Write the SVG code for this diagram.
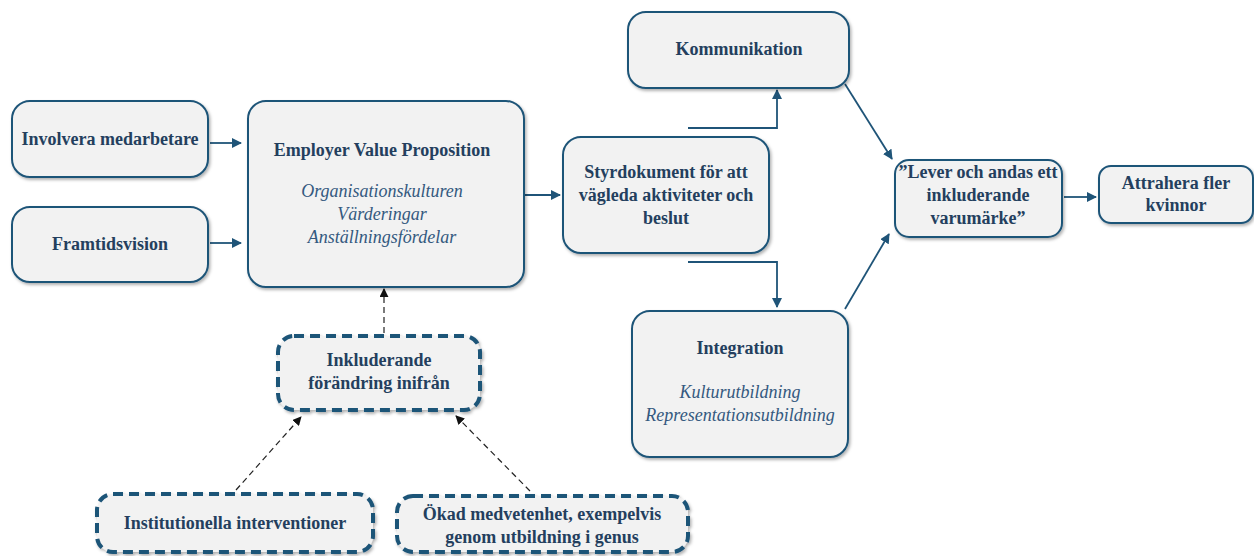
<svg xmlns="http://www.w3.org/2000/svg" width="1254" height="556" viewBox="0 0 1254 556">
<defs>
<filter id="sh" x="-10%" y="-10%" width="125%" height="130%">
<feDropShadow dx="1.5" dy="2" stdDeviation="1.5" flood-color="#000" flood-opacity="0.3"/>
</filter>
<marker id="ah" viewBox="0 0 10 10" refX="9" refY="5" markerWidth="10" markerHeight="10" markerUnits="userSpaceOnUse" orient="auto">
<path d="M0,0 L10,5 L0,10 z" fill="#1f5478"/>
</marker>
<marker id="ahk" viewBox="0 0 10 10" refX="9" refY="5" markerWidth="9" markerHeight="9" markerUnits="userSpaceOnUse" orient="auto">
<path d="M0,0 L10,5 L0,10 z" fill="#111"/>
</marker>
</defs>
<style>
.box{fill:#f2f2f2;stroke:#1f5478;stroke-width:2;filter:url(#sh)}
.dbox{fill:#f2f2f2;stroke:#1f5478;stroke-width:4;stroke-dasharray:10 6;filter:url(#sh)}
.t{font-family:"Liberation Serif","Times New Roman",serif;font-size:18px;font-weight:bold;fill:#243f5e;text-anchor:middle}
.i{font-family:"Liberation Serif","Times New Roman",serif;font-size:18px;font-style:italic;fill:#34597f;text-anchor:middle}
.c{fill:none;stroke:#1f5478;stroke-width:1.8}
.d{fill:none;stroke:#222;stroke-width:1.2;stroke-dasharray:6 4}
</style>
<g id="connectors">
<path class="c" d="M210,143 L241,143" marker-end="url(#ah)"/>
<path class="c" d="M210,243 L241,243" marker-end="url(#ah)"/>
<path class="c" d="M525,195 L560,195" marker-end="url(#ah)"/>
<path class="c" d="M688,128 L777,128 L777,90" marker-end="url(#ah)"/>
<path class="c" d="M688,262 L777,262 L777,307" marker-end="url(#ah)"/>
<path class="c" d="M845,84 L892,159" marker-end="url(#ah)"/>
<path class="c" d="M845,309 L889,234" marker-end="url(#ah)"/>
<path class="c" d="M1064,197 L1096,197" marker-end="url(#ah)"/>
<path class="d" d="M384,333 L384,289" marker-end="url(#ahk)"/>
<path class="d" d="M236,490 L301,417" marker-end="url(#ahk)"/>
<path class="d" d="M530,491 L456,416" marker-end="url(#ahk)"/>
</g>
<g id="involvera">
<rect class="box" x="12" y="101" width="196" height="76" rx="18"/>
<text class="t" x="110" y="145">Involvera medarbetare</text>
</g>
<g id="framtidsvision">
<rect class="box" x="12" y="207" width="196" height="75" rx="18"/>
<text class="t" x="110" y="250">Framtidsvision</text>
</g>
<g id="evp">
<rect class="box" x="248" y="101" width="276" height="186" rx="18"/>
<text class="t" x="382" y="156">Employer Value Proposition</text>
<text class="i" x="382" y="197">Organisationskulturen</text>
<text class="i" x="382" y="220">Värderingar</text>
<text class="i" x="382" y="243">Anställningsfördelar</text>
</g>
<g id="styrdokument">
<rect class="box" x="563" y="137" width="206" height="116" rx="18"/>
<text class="t" x="666" y="178">Styrdokument för att</text>
<text class="t" x="666" y="201">vägleda aktiviteter och</text>
<text class="t" x="666" y="224">beslut</text>
</g>
<g id="kommunikation">
<rect class="box" x="628" y="12" width="221" height="76" rx="18"/>
<text class="t" x="739" y="55">Kommunikation</text>
</g>
<g id="integration">
<rect class="box" x="632" y="311" width="216" height="146" rx="18"/>
<text class="t" x="740" y="354">Integration</text>
<text class="i" x="740" y="398">Kulturutbildning</text>
<text class="i" x="740" y="421">Representationsutbildning</text>
</g>
<g id="lever">
<rect class="box" x="895" y="160" width="167" height="77" rx="14"/>
<text class="t" x="978" y="178">”Lever och andas ett</text>
<text class="t" x="978" y="201">inkluderande</text>
<text class="t" x="978" y="224">varumärke”</text>
</g>
<g id="attrahera">
<rect class="box" x="1099" y="166" width="154" height="57" rx="12"/>
<text class="t" x="1176" y="189">Attrahera fler</text>
<text class="t" x="1176" y="211">kvinnor</text>
</g>
<g id="inkluderande">
<rect class="dbox" x="278" y="336" width="202" height="74" rx="16"/>
<text class="t" x="379" y="366">Inkluderande</text>
<text class="t" x="379" y="389">förändring inifrån</text>
</g>
<g id="institutionella">
<rect class="dbox" x="97" y="494" width="276" height="58" rx="16"/>
<text class="t" x="235" y="529">Institutionella interventioner</text>
</g>
<g id="okad">
<rect class="dbox" x="397" y="496" width="291" height="56" rx="16"/>
<text class="t" x="542" y="520">Ökad medvetenhet, exempelvis</text>
<text class="t" x="542" y="543">genom utbildning i genus</text>
</g>
</svg>
